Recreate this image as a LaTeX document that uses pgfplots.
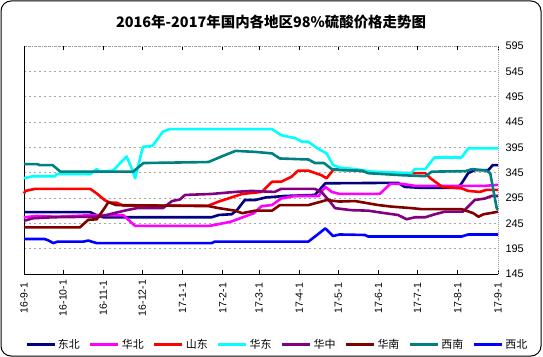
\documentclass[border=0pt]{standalone}
\usepackage{fontspec}
\setmainfont{Liberation Sans}
\newfontfamily\cjk{Noto Sans CJK SC}
\usepackage{pgfplots}
\pgfplotsset{compat=1.18}
\definecolor{cNavy}{RGB}{0,0,128}
\definecolor{cMag}{RGB}{255,0,255}
\definecolor{cRed}{RGB}{255,0,0}
\definecolor{cCyan}{RGB}{0,255,255}
\definecolor{cPurp}{RGB}{128,0,128}
\definecolor{cMar}{RGB}{128,0,0}
\definecolor{cTeal}{RGB}{0,128,128}
\definecolor{cBlue}{RGB}{0,0,255}
\begin{document}
\begin{tikzpicture}
\useasboundingbox (0,0) rectangle (543bp,357bp);
\draw[line width=1bp, rounded corners=10bp] (1bp,1bp) rectangle (541bp,356bp);
\node[font=\cjk\bfseries\fontsize{14.5}{16}\selectfont] at (271bp,335bp) {2016年-2017年国内各地区98\%硫酸价格走势图};
\begin{axis}[
  at={(24bp,83bp)}, anchor=south west,
  scale only axis, width=474bp, height=228bp,
  xmin=0, xmax=365, ymin=145, ymax=595,
  axis line style={draw=none},
  xtick={0,30,61,91,122,153,181,212,242,273,303,334,365},
  xticklabels={16-9-1,16-10-1,16-11-1,16-12-1,17-1-1,17-2-1,17-3-1,17-4-1,17-5-1,17-6-1,17-7-1,17-8-1,17-9-1},
  xticklabel style={font=\fontsize{10.5}{12}\selectfont, yshift=-24bp, rotate=90, anchor=center},
  xtick align=inside, major tick length=4bp,
  x tick style={black, line width=0.8bp},
  ytick={145,195,...,595},
  yticklabel pos=right,
  y tick style={draw=none},
  yticklabel style={font=\fontsize{11}{13}\selectfont, anchor=west, xshift=4bp},
  /pgf/number format/assume math mode=true,
  ymajorgrids,
  grid style={gray!70, line width=0.8bp, dash pattern=on 2bp off 3bp},
  every axis plot/.append style={line width=2.6bp, line join=round, mark=none},
  legend style={at={(0.534,-0.31)}, anchor=center, draw=none, fill=none,
    legend columns=8, font=\cjk\fontsize{11}{13}\selectfont,
    /tikz/every even column/.append style={column sep=7bp},
    inner sep=0pt},
  legend image code/.code={\draw[#1, line width=3bp] (0bp,0bp) -- (28bp,0bp);},
  clip=false,
]
\draw[gray!80, line width=0.8bp, dash pattern=on 1bp off 1bp] (rel axis cs:0,1) -- (rel axis cs:1,1) -- (rel axis cs:1,0);
\draw[black, line width=1bp] (rel axis cs:0,1) -- (rel axis cs:0,0) -- (rel axis cs:1,0);
% 东北
\addplot[cNavy] coordinates {(0,267)(51,267)(56,261)(61,257)(144.5,257)(150,261.5)(160,263)(164,271)(170,291)(178,291)(186,296)(201,299)(224,301)(232,324)(288,325)(293,317)(306,315)(334,315)(337,324)(342,344)(347,350)(357.5,350)(361,360)(365,360)};
\addlegendentry{东北}
% 华北
\addplot[cMag] coordinates {(0,257)(10,259.5)(25,258)(51,261)(76.5,261)(85.5,240)(143,240)(159,248)(177,265)(183,279)(191,281)(198,294)(209,299)(227,299)(229,307)(232,317)(237,307)(243,303)(274,303)(282,323)(291,323)(301,319)(355,319)(365,321)};
\addlegendentry{华北}
% 山东
\addplot[cRed] coordinates {(0,304)(1,309)(8.5,313)(51,313)(56,304)(62,291)(66,286)(71,286)(76.5,280)(142,280)(150,288)(168,303)(183,307)(191,327)(198,327)(206,337)(211,349)(219,349)(229,340)(233,334)(238,350)(243,352)(265,347)(275.5,344)(309,344)(313,334)(322,317)(337,314)(342,309)(351,307)(356,311)(365,311)};
\addlegendentry{山东}
% 华东
\addplot[cCyan] coordinates {(0,334)(7,338)(24,338)(25,342)(51,342)(56,352)(58.5,347)(68.5,349)(79,377)(84,347)(85.5,334)(91.6,396)(99,398)(107,426)(112,431)(191,431)(198,419)(209,413)(214,406)(219,406)(226,393)(233,383)(238,360)(243,355)(255,352)(268,347)(298,344)(301,352)(309,352)(316,375)(337,375)(342,393)(365,393)};
\addlegendentry{华东}
% 华中
\addplot[cPurp] coordinates {(0,250)(7,255)(22.6,257)(51,258)(58.5,258)(66,263)(79,271)(87,275)(107,275)(114,289)(120,292)(124,301)(144.5,303)(162.5,307)(175,309)(193,307)(198,313)(224,313)(229,307)(235.6,288)(239.5,275)(252,271)(265,270)(278,265)(288,261.5)(294.7,253)(301,257)(309,257)(316.5,263)(324,268)(338,268)(342,278)(347,291)(355,294)(360,299)(365,299)};
\addlegendentry{华中}
% 华南
\addplot[cMar] coordinates {(0,237)(43,237)(49.5,252)(56,253)(62,275)(65,287)(71,281)(142,279)(150,275)(162.5,270)(168,265)(178,270)(191,270)(197,281)(219,281)(229,288)(233,291)(243,288)(255,289)(265,284.5)(273,281)(283,278)(298.5,275)(306,273)(337,273)(346,265)(350,258)(354,263)(361,266)(365,268)};
\addlegendentry{华南}
% 西南
\addplot[cTeal] coordinates {(0,362)(10,362)(12,360)(22,360)(28,347)(84,347)(92,364)(142,366)(155,380)(163,388)(178,386)(191,383)(197,373)(219,371)(224,364)(231,364)(237,352)(243,350)(260,349)(265,344)(291,340)(309,338)(314,347)(340,348)(345,352)(356,349)(359,344)(364,275)(365,272)};
\addlegendentry{西南}
% 西北
\addplot[cBlue] coordinates {(0,214)(16,214)(19,211)(22.6,206)(26,209)(46,209)(49.5,211)(52,209)(56,206)(144.5,206)(147,209)(219,209)(226.6,224)(232,235)(238,220)(243,223)(262.6,222)(265,219)(337,219)(342,223)(365,223)};
\addlegendentry{西北}
\end{axis}
\end{tikzpicture}
\end{document}
